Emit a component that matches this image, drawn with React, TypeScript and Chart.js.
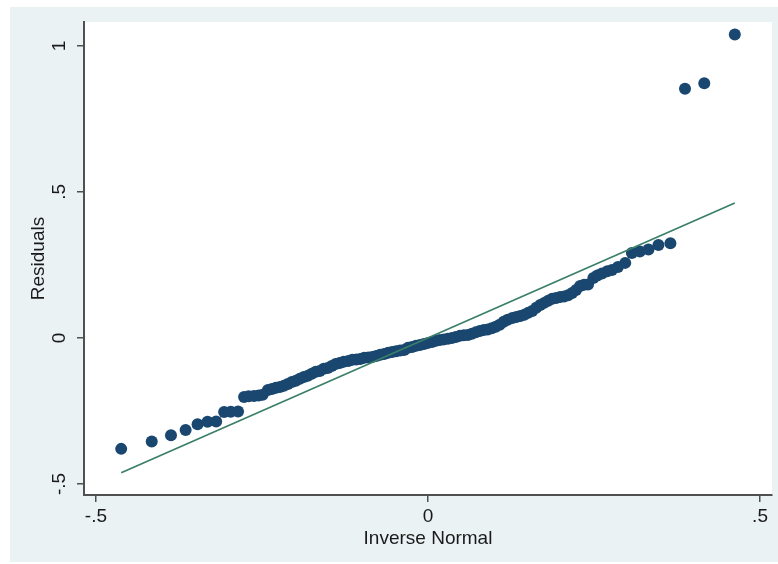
import React, { useEffect, useRef } from 'react';
import { Chart, registerables } from 'chart.js';

Chart.register(...registerables);

// Inverse-normal quantiles (x) and sorted residuals (y)
const quantiles = [
  -0.462, -0.416, -0.387, -0.365, -0.347, -0.332, -0.319, -0.307, -0.297, -0.286,
  -0.277, -0.270, -0.262, -0.255, -0.249,
  -0.241, -0.235, -0.229, -0.223, -0.217, -0.211, -0.205, -0.199, -0.193, -0.187,
  -0.181, -0.175, -0.169, -0.163, -0.157, -0.151, -0.145, -0.139, -0.133, -0.127,
  -0.120, -0.114, -0.108, -0.102, -0.096, -0.090, -0.084, -0.078, -0.072, -0.066,
  -0.060, -0.054, -0.048, -0.042, -0.036, -0.030, -0.024, -0.018, -0.012, -0.006,
  0.000, 0.006, 0.012, 0.018, 0.024, 0.030, 0.036, 0.042, 0.048, 0.054,
  0.060, 0.066, 0.072, 0.078, 0.084, 0.090, 0.096, 0.102, 0.108, 0.114,
  0.120, 0.127, 0.133, 0.139, 0.145, 0.151, 0.157, 0.163, 0.169, 0.175,
  0.181, 0.187, 0.193, 0.199, 0.205, 0.211, 0.217, 0.223, 0.229, 0.235, 0.241,
  0.249, 0.255, 0.262, 0.270, 0.277, 0.286, 0.297, 0.307, 0.319, 0.332,
  0.347, 0.365, 0.387, 0.416, 0.462,
];

const residuals = [
  -0.380, -0.355, -0.333, -0.315, -0.296, -0.287, -0.286, -0.254, -0.253, -0.252,
  -0.202, -0.200, -0.199, -0.197, -0.195,
  -0.178, -0.175, -0.171, -0.168, -0.164, -0.158, -0.151, -0.147, -0.140, -0.134,
  -0.130, -0.123, -0.116, -0.113, -0.106, -0.103, -0.096, -0.089, -0.086, -0.082,
  -0.079, -0.075, -0.074, -0.072, -0.068, -0.067, -0.065, -0.062, -0.058, -0.055,
  -0.051, -0.048, -0.046, -0.043, -0.041, -0.034, -0.031, -0.027, -0.024, -0.021,
  -0.017, -0.014, -0.010, -0.007, -0.005, -0.003, 0.000, 0.003, 0.007, 0.009,
  0.010, 0.014, 0.019, 0.024, 0.027, 0.029, 0.033, 0.038, 0.045, 0.055,
  0.062, 0.068, 0.072, 0.075, 0.079, 0.086, 0.092, 0.103, 0.113, 0.120,
  0.127, 0.134, 0.137, 0.140, 0.142, 0.146, 0.154, 0.164, 0.178, 0.182, 0.183,
  0.205, 0.214, 0.221, 0.228, 0.233, 0.243, 0.257, 0.291, 0.296, 0.303,
  0.318, 0.324, 0.853, 0.872, 1.039,
];

// 45-degree reference line endpoints
const refLineX = [-0.462, 0.462];
const refLineY = [-0.462, 0.462];

const xTickValues = [-0.5, 0, 0.5];
const xTickLabels = ['-.5', '0', '.5'];
const yTickValues = [-0.5, 0, 0.5, 1];
const yTickLabels = ['-.5', '0', '.5', '1'];
const xRange = [-0.518, 0.518];
const yRange = [-0.538, 1.082];

const xTitle = 'Inverse Normal';
const yTitle = 'Residuals';

const FONT = { family: "'Liberation Sans', Arial, Helvetica, sans-serif", size: 19 };
const AXIS_COLOR = '#505050';
const TEXT_COLOR = '#1a1a1a';

const backgroundPlugin = {
  id: 'stataBackground',
  beforeDraw(chart: any) {
    const { ctx, chartArea } = chart;
    ctx.save();
    ctx.fillStyle = '#ffffff';
    ctx.fillRect(0, 0, chart.width, chart.height);
    ctx.fillStyle = '#EAF2F3';
    ctx.fillRect(10, 7, chart.width - 10, 555);
    ctx.fillStyle = '#ffffff';
    ctx.fillRect(chartArea.left, chartArea.top, chartArea.right - chartArea.left, chartArea.bottom - chartArea.top);
    ctx.restore();
  },
};

export default function App() {
  const canvasRef = useRef<HTMLCanvasElement | null>(null);

  useEffect(() => {
    if (!canvasRef.current) return;
    const chart = new Chart(canvasRef.current, {
      type: 'scatter',
      data: {
        datasets: [
          {
            label: 'Reference',
            data: refLineX.map((x, i) => ({ x, y: refLineY[i] })),
            showLine: true,
            borderColor: '#3A7F68',
            borderWidth: 1.7,
            pointRadius: 0,
            order: 0,
          },
          {
            label: 'Residuals',
            data: quantiles.map((x, i) => ({ x, y: residuals[i] })),
            showLine: false,
            pointRadius: 6,
            pointBackgroundColor: '#1A476F',
            pointBorderWidth: 0,
            order: 1,
          },
        ],
      },
      options: {
        animation: false,
        responsive: false,
        layout: { padding: { left: 0, right: 6, top: 22, bottom: 0 } },
        plugins: { legend: { display: false }, tooltip: { enabled: false } },
        scales: {
          x: {
            type: 'linear',
            min: xRange[0],
            max: xRange[1],
            afterBuildTicks: (s: any) => {
              s.ticks = xTickValues.map((v) => ({ value: v }));
            },
            afterFit: (s: any) => {
              s.height = 69;
            },
            ticks: {
              callback: (_v: any, i: number) => xTickLabels[i],
              font: FONT,
              color: TEXT_COLOR,
              padding: 3,
              autoSkip: false,
              maxRotation: 0,
              minRotation: 0,
            },
            grid: { drawOnChartArea: false, drawTicks: true, tickLength: 7, color: AXIS_COLOR, lineWidth: 1.5 },
            border: { display: true, color: AXIS_COLOR, width: 2 },
            title: { display: true, text: xTitle, font: FONT, color: TEXT_COLOR, padding: { top: 0, bottom: 14 } },
          },
          y: {
            type: 'linear',
            min: yRange[0],
            max: yRange[1],
            afterBuildTicks: (s: any) => {
              s.ticks = yTickValues.map((v) => ({ value: v }));
            },
            afterFit: (s: any) => {
              s.width = 84;
            },
            ticks: {
              callback: (_v: any, i: number) => yTickLabels[i],
              font: FONT,
              color: TEXT_COLOR,
              padding: 6,
              autoSkip: false,
              minRotation: 90,
              maxRotation: 90,
              crossAlign: 'center',
            },
            grid: { drawOnChartArea: false, drawTicks: true, tickLength: 7, color: AXIS_COLOR, lineWidth: 1.5 },
            border: { display: true, color: AXIS_COLOR, width: 2 },
            title: { display: true, text: yTitle, font: FONT, color: TEXT_COLOR, padding: { top: 27, bottom: 0 } },
          },
        },
      },
      plugins: [backgroundPlugin],
    } as any);
    return () => chart.destroy();
  }, []);

  return (
    <div style={{ position: 'fixed', left: 0, top: 0, width: 778, height: 564, background: '#fff' }}>
      <canvas ref={canvasRef} width={778} height={564} style={{ display: 'block' }} />
    </div>
  );
}
